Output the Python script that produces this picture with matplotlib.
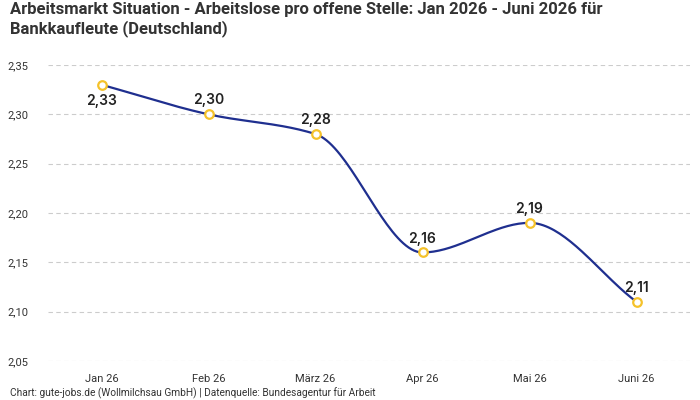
import numpy as np
import matplotlib.pyplot as plt

monate = ['Jan 26', 'Feb 26', 'März 26', 'Apr 26', 'Mai 26', 'Juni 26']
werte = [2.33, 2.30, 2.28, 2.16, 2.19, 2.11]
yticks = [2.05, 2.10, 2.15, 2.20, 2.25, 2.30, 2.35]


def monotone(x, y, n=40):
    # Fritsch-Carlson monotone cubic, like d3 curveMonotoneX
    x = np.asarray(x, float)
    y = np.asarray(y, float)
    h = np.diff(x)
    d = np.diff(y) / h
    m = np.zeros(len(x))
    m[0], m[-1] = d[0], d[-1]
    for i in range(1, len(x) - 1):
        if d[i - 1] * d[i] <= 0:
            m[i] = 0
        else:
            w1 = 2 * h[i] + h[i - 1]
            w2 = h[i] + 2 * h[i - 1]
            m[i] = (w1 + w2) / (w1 / d[i - 1] + w2 / d[i])
    xs, ys = [], []
    for i in range(len(x) - 1):
        t = np.linspace(0, 1, n)
        h00 = 2 * t**3 - 3 * t**2 + 1
        h10 = t**3 - 2 * t**2 + t
        h01 = -2 * t**3 + 3 * t**2
        h11 = t**3 - t**2
        xs.append(x[i] + t * h[i])
        ys.append(h00 * y[i] + h10 * h[i] * m[i] + h01 * y[i + 1] + h11 * h[i] * m[i + 1])
    return np.concatenate(xs), np.concatenate(ys)


plt.rcParams['font.family'] = ['Roboto', 'DejaVu Sans']

fig = plt.figure(figsize=(7, 4), dpi=100)
ax = fig.add_axes([48 / 700, 39 / 400, 642 / 700, 296 / 400])

x = np.arange(len(monate))
cx, cy = monotone(x, werte)
ax.plot(cx, cy, color='#1f2f8f', lw=1.6, zorder=2)
ax.scatter(x, werte, s=38, facecolor='white', edgecolor='#f5c22a', lw=1.6, zorder=3)

for i, v in enumerate(werte):
    lab = f'{v:.2f}'.replace('.', ',')
    if i == 0:
        ax.annotate(lab, (i, v), xytext=(0, -7), textcoords='offset points',
                    ha='center', va='top', fontsize=10, fontweight='semibold', color='#222222',
                    family=['Inter', 'DejaVu Sans'])
    else:
        ax.annotate(lab, (i, v), xytext=(0, 5), textcoords='offset points',
                    ha='center', va='bottom', fontsize=10, fontweight='semibold', color='#222222',
                    family=['Inter', 'DejaVu Sans'])

ax.set_xlim(-0.5, 5.5)
ax.set_ylim(2.05, 2.35)
ax.set_yticks(yticks)
ax.set_yticklabels([f'{t:.2f}'.replace('.', ',') for t in yticks])
ax.set_xticks(x)
ax.set_xticklabels(monate)
ax.tick_params(length=0, labelsize=8, colors='#333333')
ax.tick_params(axis='y', pad=14)
ax.tick_params(axis='x', pad=9)
ax.grid(axis='y', color='#cccccc', ls=(0, (4, 3)), lw=0.8)
for s in ax.spines.values():
    s.set_visible(False)

fig.text(10 / 700, 1 - 2 / 400, 'Arbeitsmarkt Situation - Arbeitslose pro offene Stelle: Jan 2026 - Juni 2026 für\nBankkaufleute (Deutschland)',
         ha='left', va='top', fontsize=12, fontweight='bold', color='#333333',
         family=['Roboto', 'DejaVu Sans'], linespacing=1.2)
fig.text(10 / 700, 1 - 393 / 400, 'Chart: gute-jobs.de (Wollmilchsau GmbH) | Datenquelle: Bundesagentur für Arbeit',
         ha='left', va='center', fontsize=7.3, color='#333333')

fig.savefig('out.png', dpi=100)
